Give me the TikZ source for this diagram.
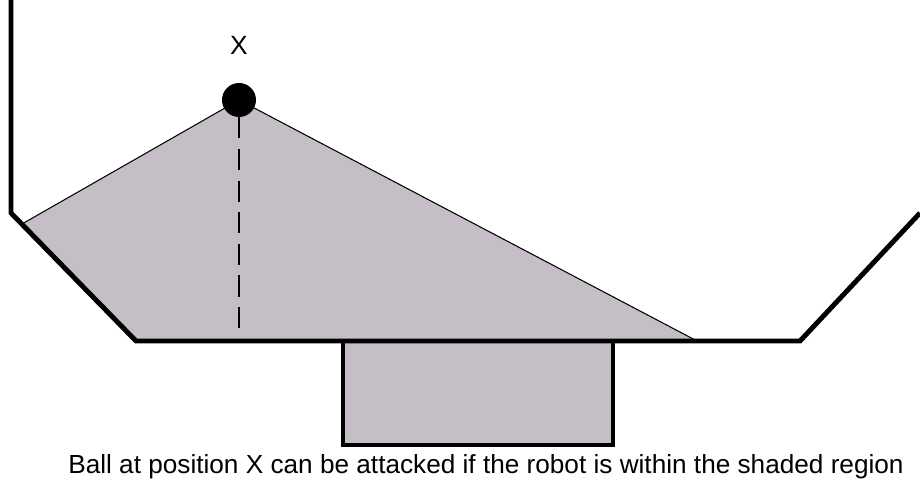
\documentclass[tikz,border=0pt]{standalone}
\usepackage{fontspec}
\setmainfont{Liberation Sans}
\definecolor{zonegray}{RGB}{197,190,198}
\tikzset{
  wall/.style={line width=2.8pt, line join=miter},
  zone/.style={fill=zonegray, draw=black, line width=2.8pt},
}
\begin{document}
\begin{tikzpicture}[x=0.02cm,y=-0.02cm]
\useasboundingbox (0,0) rectangle (920,482);

% shaded region
\coordinate (lc) at (22,224);
\coordinate (bl) at (136,341);
\coordinate (br) at (697,341);
\coordinate (foot) at (239,341);
\fill[zonegray] (lc) -- (239,100) -- (br) -- (bl) -- cycle;
\draw[line width=0.6pt] (lc) -- (239,100) -- (br);
\draw[zone] (343,341) rectangle (613,445);

% field walls
\draw[wall] (11,0) -- (11,213) -- (bl) -- (800,341) -- (920,213);

% ball
\node[circle, fill=black, inner sep=0pt, minimum size=0.68cm] (ball) at (239,100) {};
\node (xlabel) at (239,45) {\fontsize{15}{17}\selectfont X};
\draw[line width=0.8pt, dash pattern=on 12pt off 6pt] (ball) -- (foot);

\node (caption) at (486,467) {\fontsize{14.9}{17}\selectfont Ball at position X can be attacked if the robot is within the shaded region};
\end{tikzpicture}
\end{document}
